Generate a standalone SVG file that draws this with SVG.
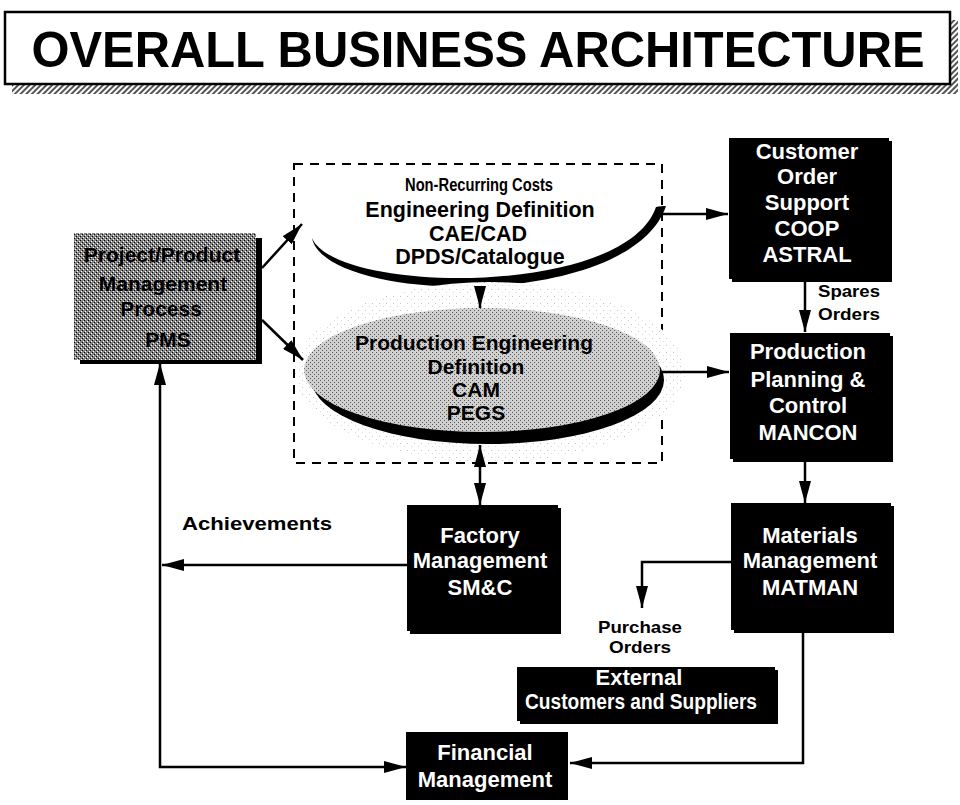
<svg xmlns="http://www.w3.org/2000/svg" width="960" height="805" viewBox="0 0 960 805">
<defs>
<pattern id="hatch" width="4" height="4" patternUnits="userSpaceOnUse" patternTransform="rotate(45)">
<rect width="4" height="4" fill="#fff"/>
<rect width="2" height="4" fill="#555"/>
</pattern>
<pattern id="stipDark" width="4" height="4" patternUnits="userSpaceOnUse">
<rect width="4" height="4" fill="#858585"/>
<rect x="0" y="0" width="1" height="1" fill="#000"/>
<rect x="2" y="2" width="1" height="1" fill="#000"/>
<rect x="1" y="3" width="1" height="1" fill="#fff"/>
<rect x="3" y="1" width="1" height="1" fill="#fff"/>
</pattern>
<pattern id="stipLight" width="4" height="4" patternUnits="userSpaceOnUse">
<rect width="4" height="4" fill="#d0d0d0"/>
<rect x="0" y="0" width="1" height="1" fill="#555"/>
<rect x="2" y="2" width="1" height="1" fill="#555"/>
</pattern>
<pattern id="speck" width="7" height="7" patternUnits="userSpaceOnUse">
<rect width="7" height="7" fill="#fff"/>
<rect x="1" y="2" width="1" height="1" fill="#c4c4c4"/>
<rect x="5" y="5" width="1" height="1" fill="#d8d8d8"/>
</pattern>
<marker id="ah" markerUnits="userSpaceOnUse" markerWidth="22" markerHeight="12" refX="22" refY="6" orient="auto-start-reverse" viewBox="0 0 22 12">
<path d="M0,0 L22,6 L0,12 z" fill="#000"/>
</marker>
</defs>
<style>
.t{font-family:"Liberation Sans",Arial,Helvetica,sans-serif;font-weight:bold;text-anchor:middle}
.w{fill:#fff;font-size:22px}
.k{fill:#000}
.box{fill:#000}
.ln{fill:none;stroke:#000;stroke-width:2.5}
.arr{marker-end:url(#ah)}
</style>
<rect width="960" height="805" fill="#fff"/>

<g id="title">
<rect x="12" y="20" width="946" height="74" fill="url(#hatch)"/>
<rect x="5" y="12" width="945" height="72" fill="#fff" stroke="#000" stroke-width="2.5"/>
<text class="t k" x="478" y="67" font-size="50" textLength="893" lengthAdjust="spacingAndGlyphs">OVERALL BUSINESS ARCHITECTURE</text>
</g>

<g id="non-recurring">
<rect x="294" y="164" width="368" height="299" fill="none" stroke="#000" stroke-width="2" stroke-dasharray="9,7"/>
<text class="t k" x="479" y="191" font-size="19" textLength="148" lengthAdjust="spacingAndGlyphs">Non-Recurring Costs</text>
</g>

<g id="engineering-definition">
<path d="M312,238 C325,304 630,312 666,206 C662,206 660,206 656,207 C625,298 335,294 312,238 z" fill="#000"/>
<text class="t k" x="480" y="217" font-size="21.5">Engineering Definition</text>
<text class="t k" x="478" y="241" font-size="21.5">CAE/CAD</text>
<text class="t k" x="480" y="264" font-size="21.5">DPDS/Catalogue</text>
</g>

<g id="production-engineering">
<ellipse cx="490" cy="372" rx="195" ry="90" fill="url(#speck)"/>
<ellipse cx="488" cy="380" rx="176" ry="64" fill="#000"/>
<ellipse cx="482" cy="370" rx="178" ry="62" fill="url(#stipLight)"/>
<text class="t k" x="474" y="350" font-size="21">Production Engineering</text>
<text class="t k" x="476" y="374" font-size="21">Definition</text>
<text class="t k" x="476" y="397" font-size="21">CAM</text>
<text class="t k" x="476" y="420" font-size="21">PEGS</text>
</g>

<g id="project-management">
<rect x="80" y="238" width="182" height="126" fill="#000"/>
<rect x="74" y="233" width="182" height="127" fill="url(#stipDark)"/>
<text class="t k" x="162" y="262" font-size="21">Project/Product</text>
<text class="t k" x="163" y="291" font-size="21">Management</text>
<text class="t k" x="161" y="316" font-size="21">Process</text>
<text class="t k" x="168" y="347" font-size="21">PMS</text>
</g>

<g id="customer-order-support">
<rect class="box" x="732" y="141" width="160" height="141"/>
<rect class="box" x="729" y="138" width="160" height="141"/>
<text class="t w" x="807" y="159">Customer</text>
<text class="t w" x="807" y="184">Order</text>
<text class="t w" x="807" y="210">Support</text>
<text class="t w" x="807" y="236">COOP</text>
<text class="t w" x="807" y="262">ASTRAL</text>
</g>

<g id="production-planning">
<rect class="box" x="733" y="336" width="160" height="126"/>
<rect class="box" x="730" y="333" width="160" height="126"/>
<text class="t w" x="808" y="359">Production</text>
<text class="t w" x="808" y="387">Planning &amp;</text>
<text class="t w" x="808" y="413">Control</text>
<text class="t w" x="808" y="440">MANCON</text>
</g>

<g id="materials-management">
<rect class="box" x="734" y="506" width="160" height="127"/>
<rect class="box" x="731" y="503" width="160" height="127"/>
<text class="t w" x="810" y="543">Materials</text>
<text class="t w" x="810" y="568">Management</text>
<text class="t w" x="810" y="595">MATMAN</text>
</g>

<g id="factory-management">
<rect class="box" x="410" y="508" width="151" height="126"/>
<rect class="box" x="407" y="505" width="151" height="126"/>
<text class="t w" x="480" y="543" font-size="23">Factory</text>
<text class="t w" x="480" y="568" font-size="23">Management</text>
<text class="t w" x="480" y="595" font-size="23">SM&amp;C</text>
</g>

<g id="external">
<rect class="box" x="520" y="670" width="258" height="54"/>
<rect class="box" x="517" y="667" width="258" height="54"/>
<text class="t w" x="639" y="685" font-size="17.5">External</text>
<text class="t w" x="641" y="709" font-size="17.5" textLength="232" lengthAdjust="spacingAndGlyphs">Customers and Suppliers</text>
</g>

<g id="financial-management">
<rect class="box" x="406" y="732" width="162" height="68"/>
<text class="t w" x="485" y="760">Financial</text>
<text class="t w" x="485" y="787">Management</text>
</g>

<g id="connectors">
<line class="ln arr" x1="262" y1="268" x2="302" y2="224"/>
<line class="ln arr" x1="262" y1="320" x2="303" y2="360"/>
<line class="ln arr" x1="662" y1="214" x2="728" y2="214"/>
<line class="ln arr" x1="480" y1="286" x2="480" y2="308"/>
<line class="ln arr" x1="662" y1="372" x2="729" y2="372"/>
<line class="ln arr" x1="480" y1="445" x2="480" y2="505" marker-start="url(#ah)"/>
<line class="ln arr" x1="805" y1="280" x2="805" y2="332"/>
<line class="ln arr" x1="805" y1="460" x2="805" y2="503"/>
<polyline class="ln arr" points="731,562 642,562 642,608"/>
<polyline class="ln arr" points="803,632 803,763 570,763"/>
<line class="ln arr" x1="407" y1="565" x2="162" y2="565"/>
<polyline class="ln arr" points="160,363 160,767 406,767" marker-start="url(#ah)"/>
</g>

<g id="labels">
<text class="t k" x="849" y="297" font-size="17" textLength="62" lengthAdjust="spacingAndGlyphs">Spares</text>
<text class="t k" x="849" y="320" font-size="17" textLength="62" lengthAdjust="spacingAndGlyphs">Orders</text>
<text class="t k" x="640" y="633" font-size="17" textLength="84" lengthAdjust="spacingAndGlyphs">Purchase</text>
<text class="t k" x="640" y="653" font-size="17" textLength="62" lengthAdjust="spacingAndGlyphs">Orders</text>
<text class="t k" x="257" y="530" font-size="19" textLength="150" lengthAdjust="spacingAndGlyphs">Achievements</text>
</g>
</svg>
